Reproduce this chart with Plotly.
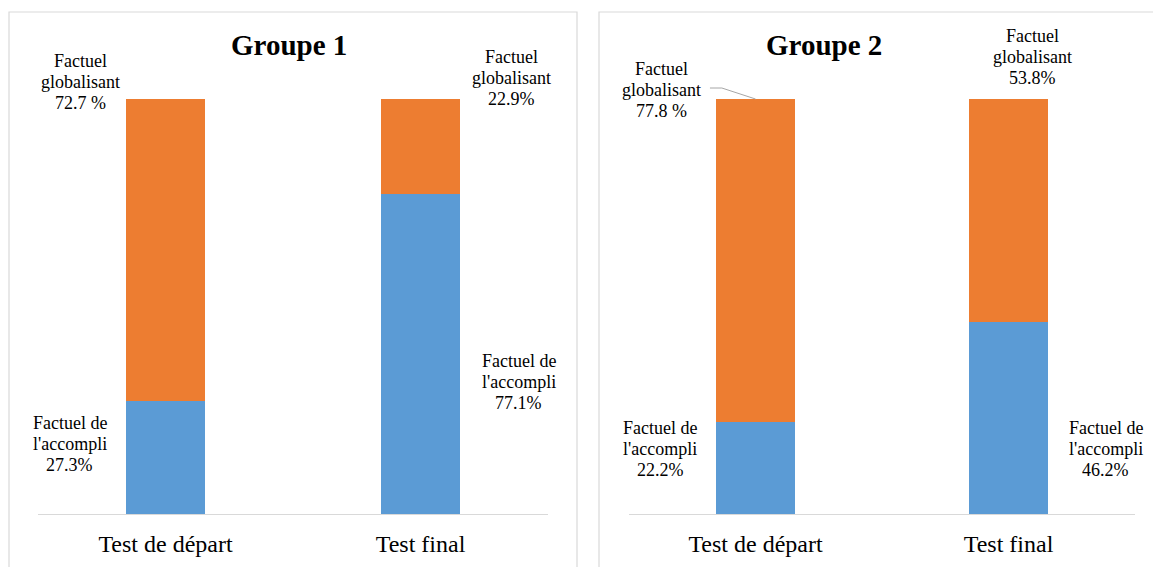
import plotly.graph_objects as go

W, H = 1153, 567

categories = ["Test de départ", "Test final"]
groups = ["Groupe 1", "Groupe 2"]

# percentages per group: [Test de départ, Test final]
g1_accompli = [27.3, 77.1]
g1_globalisant = [72.7, 22.9]
g2_accompli = [22.2, 46.2]
g2_globalisant = [77.8, 53.8]

# label number formats as printed on the chart
g1_glob_fmt = ["{:.1f} %", "{:.1f}%"]
g1_acc_fmt = ["{:.1f}%", "{:.1f}%"]
g2_glob_fmt = ["{:.1f} %", "{:.1f}%"]
g2_acc_fmt = ["{:.1f}%", "{:.1f}%"]

BLUE = "#5b9bd5"
ORANGE = "#ed7d31"
GRID = "#d9d9d9"
FONT = "Liberation Serif"

xpos = [0, 1]
YMAX = 120          # headroom above 100 % for the top labels
PX_PER_UNIT = 4.15  # vertical pixels per percentage point
LINE_STEP = 21.3 / PX_PER_UNIT


def px(x):
    return x / W


def py(y):
    return 1 - y / H


fig = go.Figure()

panels = [
    ("x", "y", g1_accompli, g1_globalisant),
    ("x2", "y2", g2_accompli, g2_globalisant),
]
for xa, ya, acc, glob in panels:
    fig.add_trace(go.Bar(x=xpos, y=acc, marker_color=BLUE, width=0.313,
                         xaxis=xa, yaxis=ya, showlegend=False,
                         marker_line_width=0, hoverinfo="skip"))
    fig.add_trace(go.Bar(x=xpos, y=glob, marker_color=ORANGE, width=0.313,
                         xaxis=xa, yaxis=ya, showlegend=False,
                         marker_line_width=0, hoverinfo="skip"))

ydom = [py(514), py(514 - YMAX * PX_PER_UNIT)]
axis_common = dict(range=[-0.5, 1.5], tickvals=xpos, ticktext=categories,
                   showgrid=False, zeroline=False, showline=True,
                   linecolor=GRID, linewidth=1, ticks="",
                   ticklabelstandoff=8,
                   tickfont=dict(family=FONT, size=24, color="black"),
                   fixedrange=True)
yaxis_common = dict(range=[0, YMAX], visible=False, showgrid=False,
                    zeroline=False, fixedrange=True)

fig.update_layout(
    width=W, height=H,
    margin=dict(l=0, r=0, t=0, b=0),
    paper_bgcolor="white", plot_bgcolor="rgba(0,0,0,0)",
    barmode="stack",
    xaxis=dict(domain=[px(38), px(548)], anchor="y", **axis_common),
    yaxis=dict(domain=ydom, anchor="x", **yaxis_common),
    xaxis2=dict(domain=[px(629), px(1135)], anchor="y2", **axis_common),
    yaxis2=dict(domain=ydom, anchor="x2", **yaxis_common),
    font=dict(family=FONT, color="black"),
)

# panel frames
for x0, x1 in [(9, 577), (599, 1160)]:
    fig.add_shape(type="rect", xref="paper", yref="paper",
                  x0=px(x0), x1=px(x1), y0=py(585), y1=py(12),
                  line=dict(color=GRID, width=1.2), fillcolor="rgba(0,0,0,0)",
                  layer="below")

# panel titles
for title, cx in zip(groups, [289, 824]):
    fig.add_annotation(text="<b>" + title + "</b>", xref="paper", yref="paper",
                       x=px(cx), y=py(45), showarrow=False,
                       xanchor="center", yanchor="middle",
                       font=dict(family=FONT, size=29, color="black"))

LBL = dict(family=FONT, size=18, color="black")


def label(xa, ya, lines, value, fmt, x, y):
    """Three-line data label centred on (x, y), middle line at y."""
    rows = lines + [fmt.format(value)]
    for i, row in enumerate(rows):
        fig.add_annotation(text=row, xref=xa, yref=ya,
                           x=x, y=y + (1 - i) * LINE_STEP, showarrow=False,
                           xanchor="center", yanchor="middle", font=LBL)


GLOB = ["Factuel", "globalisant"]
ACC = ["Factuel de", "l'accompli"]

# Groupe 1 labels
label("x", "y", GLOB, g1_globalisant[0], g1_glob_fmt[0], -0.335, 104.1)
label("x", "y", ACC, g1_accompli[0], g1_acc_fmt[0], -0.375, 16.9)
label("x", "y", GLOB, g1_globalisant[1], g1_glob_fmt[1], 1.355, 105.1)
label("x", "y", ACC, g1_accompli[1], g1_acc_fmt[1], 1.386, 31.8)

# Groupe 2 labels
label("x2", "y2", GLOB, g2_globalisant[0], g2_glob_fmt[0], -0.373, 102.2)
label("x2", "y2", ACC, g2_accompli[0], g2_acc_fmt[0], -0.377, 15.7)
label("x2", "y2", GLOB, g2_globalisant[1], g2_glob_fmt[1], 1.093, 110.1)
label("x2", "y2", ACC, g2_accompli[1], g2_acc_fmt[1], 1.385, 15.7)

# leader line from the 77.8 % label to the top of its bar
fig.add_shape(type="path", xref="x2", yref="y2",
              path="M -0.18 102.65 L -0.133 102.65 L 0 100",
              line=dict(color="#a6a6a6", width=1))

fig.write_html("out.html")
